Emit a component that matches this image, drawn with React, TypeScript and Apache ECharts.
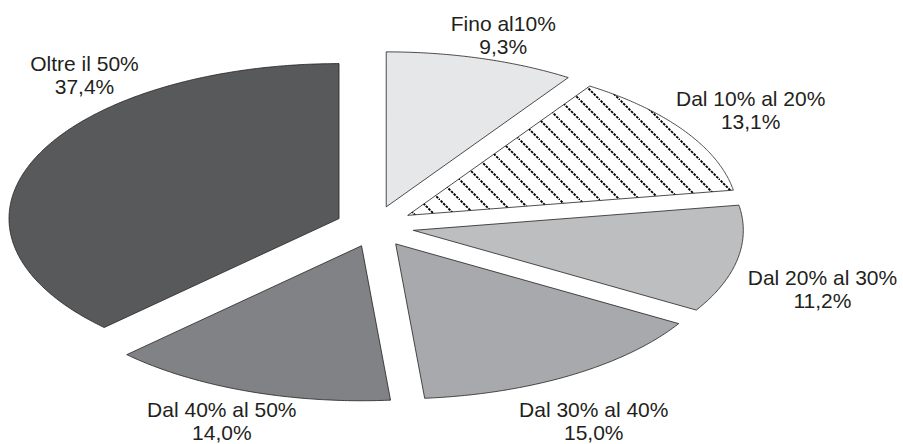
import React, { useEffect, useRef } from 'react';
import * as echarts from 'echarts';

const CATEGORIES = ['Fino al10%', 'Dal 10% al 20%', 'Dal 20% al 30%', 'Dal 30% al 40%', 'Dal 40% al 50%', 'Oltre il 50%'];
const VALUES = [9.3, 13.1, 11.2, 15.0, 14.0, 37.4];
const COLORS = ['#e6e7e8', 'hatch', '#bcbec0', '#a7a9ac', '#808285', '#58595b'];
// label offsets relative to the outer mid-point of each slice
const LABEL_NUDGE: number[][] = [[22, -23], [66, -21], [85, 30], [23, 46], [-26, 30], [50, -84]];

const CX = 375, CY = 226.5, RX = 330, RY = 155, EX = 39, EY = 20.5;

function makeHatch() {
  const s = 20;
  const c = document.createElement('canvas');
  c.width = s; c.height = s;
  const ctx = c.getContext('2d')!;
  ctx.fillStyle = '#ffffff';
  ctx.fillRect(0, 0, s, s);
  ctx.strokeStyle = '#000000';
  ctx.lineWidth = 1.9;
  ctx.setLineDash([2.6, 1.1]);
  ctx.beginPath();
  ctx.moveTo(-2, -2);
  ctx.lineTo(s + 2, s + 2);
  ctx.stroke();
  return c;
}

export default function App() {
  const ref = useRef<HTMLDivElement>(null);
  useEffect(() => {
    if (!ref.current) return;
    const chart = echarts.init(ref.current, undefined, { renderer: 'svg' });
    const hatch = makeHatch();
    const total = VALUES.reduce((a, b) => a + b, 0);
    const fmt = (v: number) => v.toFixed(1).replace('.', ',') + '%';
    chart.setOption({
      animation: false,
      backgroundColor: '#ffffff',
      series: [{
        type: 'custom',
        coordinateSystem: 'none',
        data: VALUES.map((v, i) => ({ value: v, name: CATEGORIES[i] })),
        renderItem: (params: any, api: any) => {
          const i = params.dataIndex;
          const v = api.value(0) as number;
          let start = 0;
          for (let j = 0; j < i; j++) start += VALUES[j];
          const a0 = (start / total) * Math.PI * 2;
          const a1 = ((start + v) / total) * Math.PI * 2;
          const mid = (a0 + a1) / 2;
          const ox = CX + EX * Math.sin(mid);
          const oy = CY - EY * Math.cos(mid);
          const pts: number[][] = [[ox, oy]];
          const n = Math.max(8, Math.ceil((a1 - a0) / (Math.PI / 360)));
          for (let k = 0; k <= n; k++) {
            const a = a0 + ((a1 - a0) * k) / n;
            pts.push([ox + RX * Math.sin(a), oy - RY * Math.cos(a)]);
          }
          const mx = ox + RX * Math.sin(mid);
          const my = oy - RY * Math.cos(mid);
          const fill = COLORS[i] === 'hatch' ? { image: hatch, repeat: 'repeat' } : COLORS[i];
          return {
            type: 'group',
            children: [
              {
                type: 'polygon',
                shape: { points: pts },
                style: { fill, stroke: '#231f20', lineWidth: 0.8 },
              },
              {
                type: 'text',
                style: {
                  text: CATEGORIES[i] + '\n' + fmt(v),
                  x: mx + LABEL_NUDGE[i][0],
                  y: my + LABEL_NUDGE[i][1],
                  align: 'center',
                  verticalAlign: 'middle',
                  fontSize: 21,
                  lineHeight: 23,
                  fontFamily: '"Liberation Sans", Arial, sans-serif',
                  fill: '#231f20',
                },
              },
            ],
          };
        },
      }],
    });
    return () => chart.dispose();
  }, []);
  return <div ref={ref} style={{ position: 'absolute', left: 0, top: 0, width: 903, height: 444 }} />;
}
